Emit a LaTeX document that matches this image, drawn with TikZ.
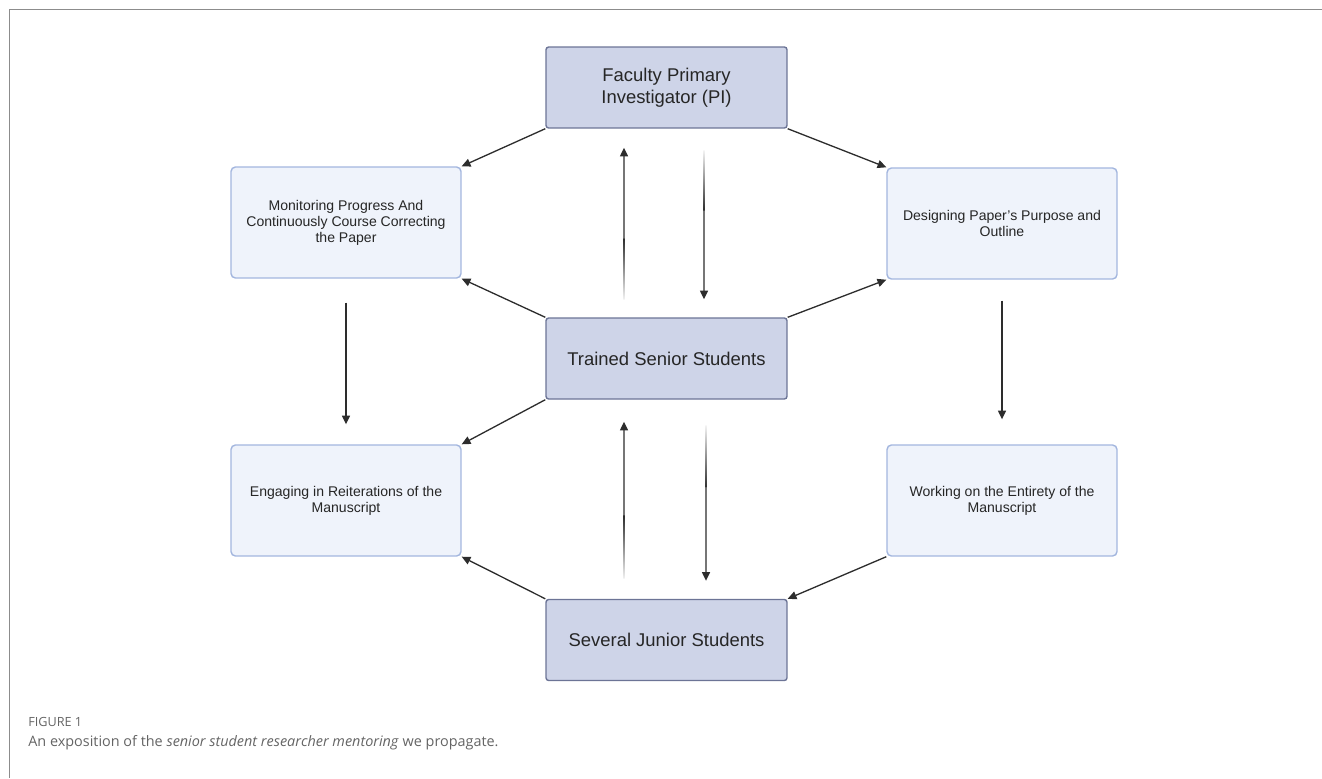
\documentclass[tikz,border=0pt]{standalone}
\usepackage{fontspec}
\setsansfont{Liberation Sans}
\newfontfamily\capfont{Open Sans}
\usetikzlibrary{arrows.meta,calc}
\definecolor{mainfill}{RGB}{206,212,232}
\definecolor{maindraw}{RGB}{108,116,150}
\definecolor{stepfill}{RGB}{239,243,251}
\definecolor{stepdraw}{RGB}{163,182,222}
\definecolor{linkcol}{RGB}{45,45,45}
\definecolor{framecol}{RGB}{140,140,140}
\definecolor{capcol}{RGB}{100,100,100}
\tikzset{mainbox/.style={draw=maindraw, fill=mainfill, line width=0.8pt, rounded corners=1.5pt,
                         minimum width=4.82cm, minimum height=1.62cm, align=center,
                         font=\sffamily\fontsize{10.5}{12.3}\selectfont, text=black!85},
        stepbox/.style={draw=stepdraw, fill=stepfill, line width=0.8pt, rounded corners=2.5pt,
                        minimum width=4.6cm, minimum height=2.22cm, align=center,
                        font=\sffamily\fontsize{8}{9.1}\selectfont, text=black!85},
        link/.style={draw=linkcol, line width=0.75pt, -{Triangle[length=5pt,width=4.6pt]}},
        frameline/.style={draw=framecol, line width=1.1pt},
        capfig/.style={inner sep=0pt, text=capcol, font=\capfont\fontsize{7.2}{8}\selectfont},
        captext/.style={inner sep=0pt, text=capcol, font=\capfont\fontsize{8.2}{9}\selectfont},
        }
% arrow whose tail fades out (#3: 0 = pointing up, 180 = pointing down)
\newcommand{\fadearrow}[3]{%
  \shade[top color=linkcol, bottom color=linkcol!6, shading angle=#3]
    ($(#1)+(-0.4pt,0pt)$) rectangle ($(#1)!0.4!(#2)+(0.4pt,0pt)$);
  \draw[link] ($(#1)!0.4!(#2)$) -- (#2);
}

\begin{document}
\begin{tikzpicture}[x=0.02cm, y=-0.02cm]
    \useasboundingbox (0,0) rectangle (1322,778);
    \draw[frameline] (1322,9.5) -- (9.5,9.5) -- (9.5,778);

    \node[mainbox] (pi) at (666.5,87.5) {Faculty Primary\\Investigator (PI)};
    \node[mainbox] (senior) at (666.5,358.5) {Trained Senior Students};
    \node[mainbox] (junior) at (666.5,640) {Several Junior Students};

    \node[stepbox] (monitor) at (346,222.5) {Monitoring Progress And\\Continuously Course Correcting\\the Paper};
    \node[stepbox] (design) at (1002,223.5) {Designing Paper's Purpose and\\Outline};
    \node[stepbox] (engage) at (346,500.5) {Engaging in Reiterations of the\\Manuscript};
    \node[stepbox] (work) at (1002,500.5) {Working on the Entirety of the\\Manuscript};

    % diagonal links
    \draw[link] (pi.south west) -- (monitor.north east);
    \draw[link] (pi.south east) -- (design.north west);
    \draw[link] (senior.north west) -- (monitor.south east);
    \draw[link] (senior.north east) -- (design.south west);
    \draw[link] (senior.south west) -- (engage.north east);
    \draw[link] (junior.north west) -- (engage.south east);
    \draw[link] (work.south west) -- (junior.north east);

    % straight down
    \draw[link, shorten <=0.48cm, shorten >=0.4cm] (monitor) -- (engage);
    \draw[link, shorten <=0.42cm, shorten >=0.5cm] (design) -- (work);

    % faded pairs
    \coordinate (upone) at ($(senior.north)+(-42.5,-18)$);
    \coordinate (uptwo) at ($(pi.south)+(-42.5,19)$);
    \coordinate (downone) at ($(pi.south)+(37.5,22)$);
    \coordinate (downtwo) at ($(senior.north)+(37.5,-18)$);
    \coordinate (upthree) at ($(junior.north)+(-42.5,-20)$);
    \coordinate (upfour) at ($(senior.south)+(-42.5,22)$);
    \coordinate (downthree) at ($(senior.south)+(39.5,26)$);
    \coordinate (downfour) at ($(junior.north)+(39.5,-18)$);
    \fadearrow{upone}{uptwo}{0}
    \fadearrow{downone}{downtwo}{180}
    \fadearrow{upthree}{upfour}{0}
    \fadearrow{downthree}{downfour}{180}

    \node[capfig, anchor=base west] (figno) at (28,726) {FIGURE 1};
    \node[captext, anchor=base west] (captxt) at (28,746)
        {An exposition of the \textit{senior student researcher mentoring} we propagate.};
\end{tikzpicture}
\end{document}
